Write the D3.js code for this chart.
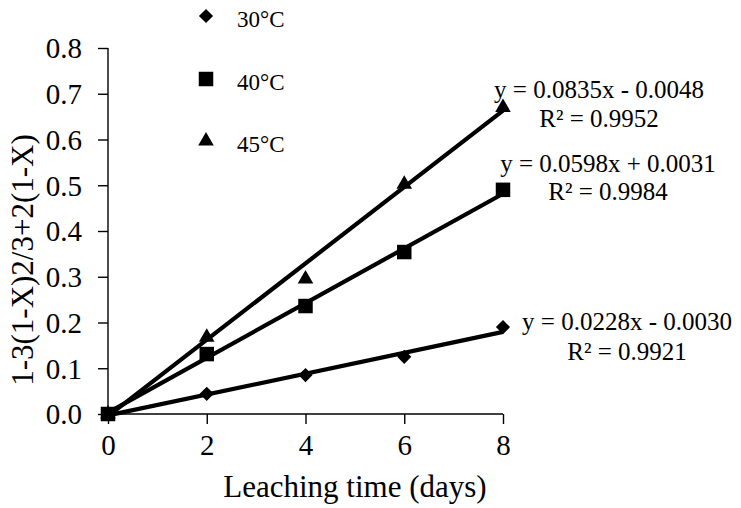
<!DOCTYPE html>
<html>
<head>
<meta charset="utf-8">
<script src="https://cdn.jsdelivr.net/npm/d3@7"></script>
<style>
  body { margin: 0; background: #fff; }
</style>
</head>
<body>
<div id="chart"></div>
<script>
// leaching kinetics: shrinking core model vs time
const days = [0, 2, 4, 6, 8];
const temps = ['30°C', '40°C', '45°C'];
const values30 = [0, 0.044, 0.085, 0.125, 0.19];
const values40 = [0, 0.131, 0.236, 0.354, 0.49];
const values45 = [0, 0.168, 0.295, 0.502, 0.67];
const slopes = [0.0228, 0.0598, 0.0835];
const intercepts = [-0.0030, 0.0031, -0.0048];
const equations = ['y = 0.0228x - 0.0030', 'y = 0.0598x + 0.0031', 'y = 0.0835x - 0.0048'];
const rSquared = ['R² = 0.9921', 'R² = 0.9984', 'R² = 0.9952'];
const yTicks = [0, 0.1, 0.2, 0.3, 0.4, 0.5, 0.6, 0.7, 0.8];
const xTicks = [0, 2, 4, 6, 8];

const series = [values30, values40, values45];
const FONT = 'Liberation Serif';

// marker shapes: diamond is a square turned 45 degrees
const markers = [
  {type: d3.symbolSquare, size: 100, rot: 45},
  {type: d3.symbolSquare, size: 210, rot: 0},
  {type: d3.symbolTriangle, size: 105, rot: 0}
];
const drawOrder = [0, 2, 1]; // squares end up on top at the origin

const width = 741, height = 508;
const svg = d3.select('#chart').append('svg')
    .attr('width', width)
    .attr('height', height);

const x = d3.scaleLinear().domain([0, 8]).range([108, 503]);
const y = d3.scaleLinear().domain([0, 0.8]).range([414, 48]);

// axes
const yAxis = svg.append('g')
    .attr('transform', 'translate(108,0)')
    .call(d3.axisLeft(y).tickValues(yTicks).tickFormat(d3.format('.1f')).tickSize(10).tickPadding(16));
const xAxis = svg.append('g')
    .attr('transform', 'translate(0,414)')
    .call(d3.axisBottom(x).tickValues(xTicks).tickFormat(d3.format('d')).tickSize(10).tickPadding(10));

[yAxis, xAxis].forEach(ax => {
  ax.attr('font-family', null).attr('font-size', null);
  ax.select('.domain').attr('stroke', '#000').attr('stroke-width', 1.4);
  ax.selectAll('.tick line').attr('stroke', '#000').attr('stroke-width', 1.4);
  ax.selectAll('.tick text')
      .attr('fill', '#000')
      .style('font-family', FONT)
      .style('font-size', '29px');
});
yAxis.select('.domain').attr('d', 'M0,48V414');
xAxis.select('.domain').attr('d', 'M108,0H503');
yAxis.selectAll('.tick text').attr('dy', '0.34em');
xAxis.selectAll('.tick text').attr('dy', '0.72em');

// trendlines
series.forEach((s, i) => {
  svg.append('line')
      .attr('x1', x(0)).attr('y1', y(intercepts[i]))
      .attr('x2', x(8)).attr('y2', y(slopes[i] * 8 + intercepts[i]))
      .attr('stroke', '#000')
      .attr('stroke-width', 4.2);
});

// markers
drawOrder.forEach(i => {
  const m = markers[i];
  svg.selectAll(null)
      .data(series[i])
      .enter()
      .append('path')
      .attr('d', d3.symbol().type(m.type).size(m.size))
      .attr('transform', (d, j) => `translate(${x(days[j])},${y(d)}) rotate(${m.rot})`)
      .attr('fill', '#000');
});

function label(xp, yp, size, str, anchor) {
  return svg.append('text')
      .attr('x', xp)
      .attr('y', yp)
      .attr('text-anchor', anchor || 'start')
      .style('font-family', FONT)
      .style('font-size', size + 'px')
      .attr('fill', '#000')
      .text(str);
}

// legend
const legendY = [16, 79, 141];
temps.forEach((t, i) => {
  const m = markers[i];
  svg.append('path')
      .attr('d', d3.symbol().type(m.type).size(m.size))
      .attr('transform', `translate(206,${legendY[i]}) rotate(${m.rot})`)
      .attr('fill', '#000');
  label(237, legendY[i] + 11, 23, t);
});

// regression equations
const eqPos = [[627, 330, 360], [608, 172, 200], [599, 98, 127]];
equations.forEach((e, i) => {
  label(eqPos[i][0], eqPos[i][1], 25, e, 'middle');
  label(eqPos[i][0], eqPos[i][2], 25, rSquared[i], 'middle');
});

// axis titles
label(355, 497, 31, 'Leaching time (days)', 'middle');
label(0, 0, 31, '1-3(1-X)2/3+2(1-X)', 'middle')
    .attr('transform', 'translate(33,260) rotate(-90)');
</script>
</body>
</html>
